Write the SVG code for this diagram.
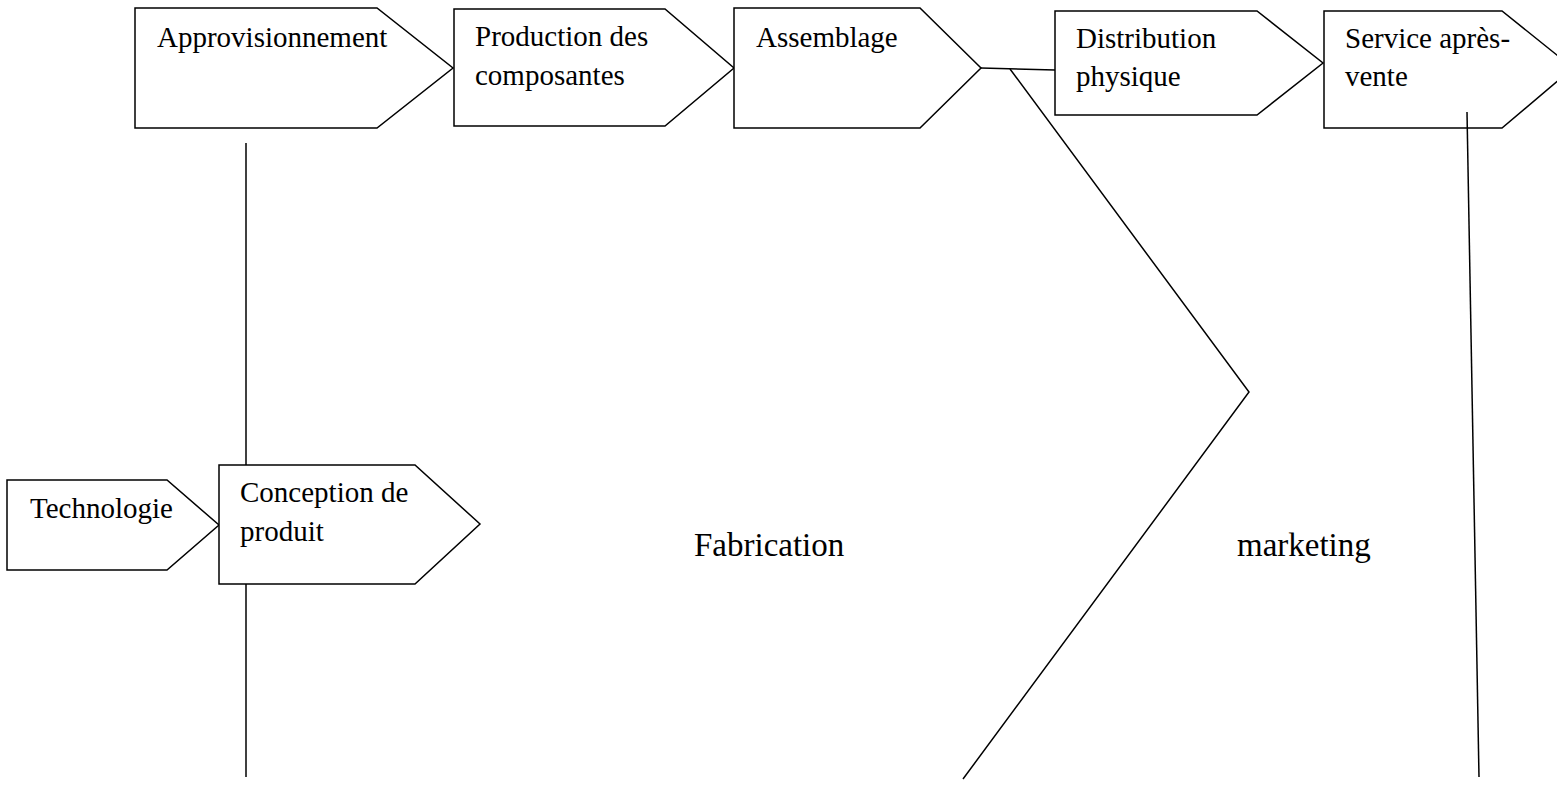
<svg xmlns="http://www.w3.org/2000/svg" width="1557" height="789" viewBox="0 0 1557 789">
  <style>
    .box { fill: #ffffff; stroke: #000000; stroke-width: 1.5; stroke-linejoin: miter; }
    .lbl { font-family: "Liberation Serif", "Times New Roman", serif; font-size: 29px; fill: #000000; }
    .big { font-family: "Liberation Serif", "Times New Roman", serif; font-size: 33px; fill: #000000; }
    .ln { stroke: #000000; stroke-width: 1.5; fill: none; }
  </style>
  <rect x="0" y="0" width="1557" height="789" fill="#ffffff"/>

  <!-- upper value chain -->
  <g id="approvisionnement">
    <polygon class="box" points="135,8 377,8 453,68 377,128 135,128"/>
    <text class="lbl" x="157" y="47">Approvisionnement</text>
  </g>
  <g id="production">
    <polygon class="box" points="454,9 665,9 734,68 665,126 454,126"/>
    <text class="lbl" x="475" y="46">Production des</text>
    <text class="lbl" x="475" y="85">composantes</text>
  </g>
  <g id="assemblage">
    <polygon class="box" points="734,8 920,8 981,68 920,128 734,128"/>
    <text class="lbl" x="756" y="47">Assemblage</text>
  </g>
  <g id="distribution">
    <polygon class="box" points="1055,11 1257,11 1323,63 1257,115 1055,115"/>
    <text class="lbl" x="1076" y="48">Distribution</text>
    <text class="lbl" x="1076" y="86">physique</text>
  </g>
  <g id="service">
    <polygon class="box" points="1324,11 1502,11 1573,68 1502,128 1324,128"/>
    <text class="lbl" x="1345" y="48">Service après-</text>
    <text class="lbl" x="1345" y="86">vente</text>
  </g>

  <!-- lower chain -->
  <g id="technologie">
    <polygon class="box" points="7,480 167,480 219,525 167,570 7,570"/>
    <text class="lbl" x="30" y="518">Technologie</text>
  </g>
  <g id="conception">
    <polygon class="box" points="219,465 415,465 480,524 415,584 219,584"/>
    <text class="lbl" x="240" y="502">Conception de</text>
    <text class="lbl" x="240" y="541">produit</text>
  </g>

  <!-- connectors, drawn over the boxes -->
  <g id="connectors">
    <line class="ln" x1="246" y1="143" x2="246" y2="465"/>
    <line class="ln" x1="246" y1="584" x2="246" y2="777"/>
    <line class="ln" x1="981" y1="68" x2="1055" y2="70"/>
    <polyline class="ln" points="1010,69 1249,392 963,779"/>
    <line class="ln" x1="1467" y1="112" x2="1479" y2="777"/>
  </g>

  <!-- zone labels -->
  <g id="zones">
    <text class="big" x="694" y="556">Fabrication</text>
    <text class="big" x="1237" y="556">marketing</text>
  </g>
</svg>
